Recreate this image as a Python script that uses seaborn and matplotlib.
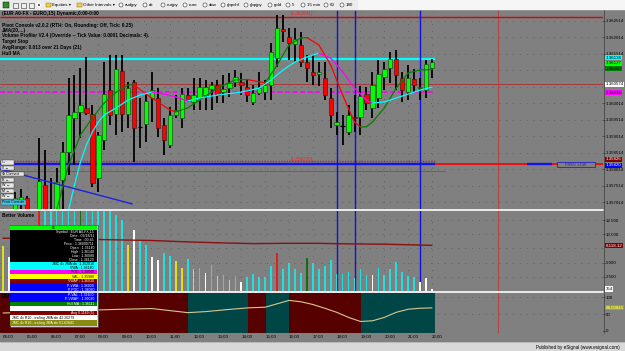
import matplotlib
matplotlib.use("Agg")
import matplotlib.pyplot as plt
import matplotlib.transforms as mtransforms
from matplotlib.patches import Rectangle, Circle
import numpy as np
import pandas as pd
import seaborn as sns

sns.set_style("dark")
plt.rcParams['font.family'] = ['Liberation Sans', 'DejaVu Sans']

# ---------------- data ----------------
bar_times = pd.date_range("2011-02-18 04:00", "2011-02-18 22:00", freq="15min")

opens = [1.35648, 1.35667, 1.35664, 1.35709, 1.35715, 1.35664, 1.35667, 1.35754, 1.35673, 1.35673,
         1.35770, 1.35854, 1.35958, 1.35976, 1.35988, 1.35970, 1.35776, 1.35891, 1.36042, 1.35970,
         1.36100, 1.35970, 1.36067, 1.35930, 1.35939, 1.36018, 1.36018, 1.35936, 1.35876, 1.35967,
         1.35958, 1.36027, 1.36006, 1.36018, 1.36027, 1.36045, 1.36057, 1.36036, 1.36048, 1.36067,
         1.36067, 1.36051, 1.36006, 1.36033, 1.36036, 1.36057, 1.36139, 1.36227, 1.36203, 1.36182,
         1.36179, 1.36127, 1.36097, 1.36091, 1.36079, 1.36018, 1.35936, 1.35933, 1.35915, 1.35961,
         1.35961, 1.36030, 1.35988, 1.36018, 1.36082, 1.36109, 1.36136, 1.36079, 1.36036, 1.36076,
         1.36048, 1.36042, 1.36109]
highs = [1.35673, 1.35673, 1.35733, 1.35742, 1.35721, 1.35673, 1.35897, 1.35860, 1.35776, 1.35806,
         1.35885, 1.36079, 1.36088, 1.36109, 1.36142, 1.35997, 1.35915, 1.36127, 1.36148, 1.36148,
         1.36148, 1.36067, 1.36073, 1.36018, 1.36033, 1.36097, 1.36048, 1.35958, 1.35991, 1.36027,
         1.36048, 1.36048, 1.36079, 1.36079, 1.36073, 1.36067, 1.36073, 1.36088, 1.36094, 1.36103,
         1.36094, 1.36073, 1.36057, 1.36097, 1.36073, 1.36185, 1.36270, 1.36270, 1.36230, 1.36230,
         1.36218, 1.36148, 1.36148, 1.36127, 1.36127, 1.36048, 1.35976, 1.35967, 1.35997, 1.36027,
         1.36054, 1.36051, 1.36097, 1.36133, 1.36127, 1.36157, 1.36164, 1.36097, 1.36118, 1.36106,
         1.36079, 1.36133, 1.36136]
lows = [1.35624, 1.35633, 1.35648, 1.35664, 1.35648, 1.35624, 1.35664, 1.35660, 1.35648, 1.35664,
        1.35673, 1.35785, 1.35815, 1.35897, 1.35967, 1.35748, 1.35733, 1.35860, 1.35936, 1.35906,
        1.35915, 1.35927, 1.35824, 1.35867, 1.35885, 1.35945, 1.35900, 1.35845, 1.35867, 1.35958,
        1.35927, 1.36006, 1.35982, 1.35982, 1.35982, 1.35982, 1.36003, 1.36003, 1.36021, 1.36051,
        1.36027, 1.36006, 1.35997, 1.36027, 1.36012, 1.36012, 1.36112, 1.36188, 1.36133, 1.36127,
        1.36112, 1.36067, 1.36057, 1.36054, 1.36012, 1.35927, 1.35906, 1.35876, 1.35906, 1.35915,
        1.35906, 1.35982, 1.35958, 1.35988, 1.36042, 1.36064, 1.36042, 1.36006, 1.36012, 1.36036,
        1.36012, 1.36018, 1.36079]
closes = [1.35664, 1.35648, 1.35715, 1.35718, 1.35667, 1.35648, 1.35767, 1.35670, 1.35660, 1.35764,
          1.35854, 1.35967, 1.35976, 1.35997, 1.35973, 1.35761, 1.35906, 1.36030, 1.35967, 1.36106,
          1.35970, 1.36048, 1.35927, 1.35930, 1.36009, 1.36042, 1.35927, 1.35891, 1.35967, 1.35982,
          1.36030, 1.36012, 1.36027, 1.36051, 1.36051, 1.36057, 1.36027, 1.36045, 1.36064, 1.36082,
          1.36057, 1.36027, 1.36033, 1.36048, 1.36057, 1.36157, 1.36230, 1.36221, 1.36185, 1.36197,
          1.36127, 1.36109, 1.36088, 1.36097, 1.36027, 1.35967, 1.35945, 1.35933, 1.35967, 1.35958,
          1.36024, 1.36003, 1.36057, 1.36091, 1.36106, 1.36136, 1.36088, 1.36042, 1.36079, 1.36057,
          1.36051, 1.36121, 1.36127]

volumes = [8000, 6000, 7000, 8000, 6500, 9000, 16000, 20000, 17000, 18000,
           19000, 25000, 22000, 21000, 20000, 24000, 18000, 23000, 15000, 13400,
           12500, 8100, 10700, 9000, 8100, 6000, 5450, 6700, 6150, 5300,
           4050, 5650, 3900, 4050, 3150, 4600, 2650, 2800, 1950, 2650,
           1600, 2450, 3000, 2450, 2450, 4400, 6700, 3900, 4900, 3900,
           3150, 5800, 4900, 3900, 4400, 5450, 3000, 3000, 3350, 2300,
           3900, 2800, 2800, 4050, 2800, 3900, 5100, 3350, 2650, 2450,
           1600, 2300, 354]
volume_class = ["yellow", "white", "cyan", "cyan", "white", "cyan", "red", "cyan", "cyan", "cyan",
                "cyan", "cyan", "cyan", "green", "cyan", "cyan", "cyan", "cyan", "cyan", "cyan",
                "cyan", "yellow", "white", "cyan", "cyan", "white", "white", "cyan", "cyan", "yellow",
                "yellow", "cyan", "yellow", "cyan", "white", "cyan", "yellow", "cyan", "yellow", "cyan",
                "white", "cyan", "cyan", "cyan", "cyan", "cyan", "red", "cyan", "cyan", "cyan",
                "cyan", "green", "cyan", "cyan", "cyan", "cyan", "cyan", "cyan", "cyan", "cyan",
                "cyan", "cyan", "white", "cyan", "cyan", "cyan", "cyan", "cyan", "cyan", "cyan",
                "white", "white", "white"]

# volume moving average (bar number, value)
vol_ma_bar = [0, 12, 25, 31, 36, 42, 47, 53, 58, 64, 72]
vol_ma_val = [9300, 9150, 8900, 8650, 8500, 8350, 8400, 8400, 8300, 8250, 8050]

# JMA (green rising / red falling)
jma_bar = [9, 11, 13, 15, 17, 19, 21, 22, 24, 26, 28, 29, 31, 33, 35, 37, 39, 41, 43, 44,
           46, 48, 50, 51, 53, 55, 57, 59, 60, 61, 62, 64, 66, 68, 70, 72]
jma_val = [1.35679, 1.35815, 1.35906, 1.35958, 1.36003, 1.36036, 1.36057, 1.36058, 1.36030, 1.36006,
           1.35982, 1.35976, 1.35988, 1.36012, 1.36036, 1.36057, 1.36073, 1.36074, 1.36067, 1.36064,
           1.36118, 1.36179, 1.36200, 1.36201, 1.36179, 1.36118, 1.36027, 1.35945, 1.35930, 1.35931,
           1.35945, 1.35988, 1.36048, 1.36094, 1.36103, 1.36104]

# Hull MA (cyan rising / magenta falling)
hull_bar = [11, 12, 13, 14, 15, 16, 17, 19, 21, 23, 25, 27, 29, 31, 33, 36, 40, 43, 45, 47,
            49, 51, 53, 55, 57, 59, 61, 62, 64, 67, 70, 72]
hull_val = [1.35679, 1.35755, 1.35824, 1.35876, 1.35915, 1.35945, 1.35967, 1.35988, 1.36012, 1.36027,
            1.36036, 1.36030, 1.36021, 1.36009, 1.36018, 1.36027, 1.36036, 1.36048, 1.36073, 1.36103,
            1.36127, 1.36142, 1.36154, 1.36139, 1.36097, 1.36048, 1.36012, 1.36003, 1.36006, 1.36024,
            1.36042, 1.36051]

# RSI-type oscillator and its background regimes
rsi_bar = [0, 4, 8, 12, 16, 20, 25, 28, 31, 34, 37, 41, 44, 46, 48, 50, 52, 54, 56, 58,
           60, 62, 64, 66, 68, 70, 72]
rsi_val = [53, 55, 58, 60, 62, 64, 66, 60, 54, 57, 62, 68, 70, 80, 90, 86, 78, 67, 55, 40,
           28, 30, 40, 55, 64, 67, 68]
regime_start = [-0.5, 31.0, 41.1, 44.1, 48.0, 60.1]
regime_end = [31.0, 41.1, 44.1, 48.0, 60.1, 72.5]
regime_kind = ["down", "up", "down", "up", "down", "up"]

# right-axis tick labels that are not hidden behind value tags
price_ticks = [1.357014, 1.357514, 1.358014, 1.358514, 1.359014, 1.359514,
               1.360014, 1.361514, 1.362014, 1.362514]
price_grid = [1.357014, 1.357514, 1.358014, 1.358514, 1.359014, 1.359514,
              1.360014, 1.360514, 1.361014, 1.361514, 1.362014, 1.362514]
volume_ticks = [2500, 5000, 10000, 12500]
volume_tick_labels = ["2.500", "5.000", "10.000", "12.500"]
volume_grid = [2500, 5000, 7500, 10000, 12500]
rsi_ticks = [0, 50, 100]

# horizontal levels
level_high = 1.36264
level_cyan = 1.36137
level_pivot = 1.36059
level_poc = 1.36037
level_low_dot = 1.35826
level_prev_low = 1.35817
level_low2 = 1.35797
trend_bar = [-0.5, 21.7]
trend_val = [1.35803, 1.35697]
session_lines = [56, 59, 70]
now_line = 83.1

header_lines = ["(EUR A0-FX - EURO,15) Dynamic,0:00-0:00", "",
                "Pivot Console v2.0.2 (RTH: On, Rounding: Off, Tick: 0.25)",
                "JMA(20,...)",
                "Volume Profiler V2.4 (Override -- Tick Value: 0.0001 Decimals: 4).",
                "Target Stop",
                "AvgRange: 0.013 over 21 Days (21)",
                "Hull MA"]

toolbar_items = ["audjpy", "dx", "eurjpy", "euro", "dow", "gbpchf", "gbpjpy", "gold",
                 "5", "15 min", "60", "180"]

# ---------------- figure ----------------
GRAY = '#808080'
W, H = 625, 351
fig = plt.figure(figsize=(W / 100, H / 100), dpi=100)
fig.patch.set_facecolor(GRAY)

n = len(opens)
idx = np.arange(n)
o = np.array(opens); c = np.array(closes); hi = np.array(highs); lo = np.array(lows)
hour_bar = [i for i, t in enumerate(bar_times) if t.minute == 0]
hour_lab = [bar_times[i].strftime("%H:%M") for i in hour_bar]

XMIN, XMAX = -0.5035, 100.7
DOT = (0, (1.2, 7))
LBL = 3.2


def add_panel(y_top, y_bot):
    ax = fig.add_axes([0, 1 - y_bot / H, 603 / W, (y_bot - y_top) / H])
    ax.set_facecolor(GRAY)
    for s in ax.spines.values():
        s.set_visible(False)
    ax.set_xlim(XMIN, XMAX)
    ax.yaxis.tick_right()
    ax.tick_params(axis='y', labelsize=LBL, length=1.2, width=0.4, pad=0.6,
                   colors='black', direction='out')
    ax.tick_params(axis='x', bottom=False, labelbottom=False)
    ax.grid(False)
    for i in hour_bar:
        ax.axvline(i, color='#5e5e5e', lw=0.6, ls=DOT, zorder=0)
    return ax


def tag(ax, y, text, fc, tc='black'):
    tr = mtransforms.blended_transform_factory(ax.transAxes, ax.transData)
    ax.text(1.004, y, text, transform=tr, fontsize=LBL, color=tc, va='center', ha='left',
            bbox=dict(boxstyle='square,pad=0.12', fc=fc, ec='none'), zorder=10, clip_on=False)


# ---- price panel ----
ax_p = add_panel(10, 209)
ax_p.set_ylim(1.356817, 1.362847)
ax_p.set_yticks(price_ticks)
ax_p.set_yticklabels([f"{t:.6f}" for t in price_ticks])
for t in price_grid:
    ax_p.axhline(t, color='#5e5e5e', lw=0.6, ls=DOT, zorder=0)

ax_p.hlines(level_high, XMIN, XMAX, color='#e00000', lw=1.0, zorder=2)
ax_p.hlines(level_pivot, XMIN, XMAX, color='#a83a3a', lw=0.7, zorder=2)
ax_p.hlines(level_cyan, XMIN, 72.5, color='#00ffff', lw=1.6, zorder=2)
ax_p.hlines(level_poc, XMIN, 72.5, color='#ff00ff', lw=1.2, ls=(0, (3, 1.5)), zorder=2)
ax_p.hlines(level_low_dot, XMIN, 72.5, color='#c02020', lw=1.0, ls=(0, (1, 1)), zorder=2)
ax_p.hlines(level_prev_low, XMIN, 72.5, color='#1414e6', lw=1.7, zorder=2)
ax_p.hlines(level_prev_low, 72.5, XMAX, color='#e81010', lw=1.4, zorder=2)
ax_p.hlines(level_prev_low, 88.0, 92.2, color='#1414e6', lw=1.7, zorder=2)
ax_p.hlines(level_low2, XMIN, 74.2, color='#a04848', lw=0.7, zorder=2)
for b in session_lines:
    ax_p.axvline(b, color='#1010e0', lw=1.0, zorder=2)
ax_p.axvline(now_line, color='#b04848', lw=0.8, zorder=1)

# candles
up = c > o
dn = c < o
dj = c == o
ax_p.vlines(idx, lo, hi, color='black', lw=1.3, zorder=3)
ax_p.bar(idx[up], (c - o)[up], bottom=o[up], width=0.74, color='#00ff00',
         edgecolor='#1a3a1a', lw=0.4, zorder=4)
ax_p.bar(idx[dn], (c - o)[dn], bottom=o[dn], width=0.74, color='#ff0000',
         edgecolor='#3a1010', lw=0.4, zorder=4)
ax_p.hlines(o[dj], idx[dj] - 0.37, idx[dj] + 0.37, color='black', lw=0.9, zorder=4)


def two_tone(ax, xs, ys, col_up, col_dn, lw):
    for k in range(len(xs) - 1):
        col = col_up if ys[k + 1] >= ys[k] else col_dn
        ax.plot(xs[k:k + 2], ys[k:k + 2], color=col, lw=lw, zorder=5,
                solid_capstyle='round')


two_tone(ax_p, jma_bar, jma_val, '#008000', '#ff0000', 0.9)
two_tone(ax_p, hull_bar, hull_val, '#00ffff', '#ff00ff', 0.9)
ax_p.plot(trend_bar, trend_val, color='#2020e0', lw=1.0, zorder=6)

tag(ax_p, level_cyan + 0.00003, "1.36136", '#00ffff')
tag(ax_p, 1.36124, "1.36127", '#00ff00')
tag(ax_p, 1.36107, "1.36110", '#008000')
tag(ax_p, level_pivot, "1.360574", '#ffffff')
tag(ax_p, level_poc - 0.00003, "1.36036", '#ff00ff')
tag(ax_p, 1.35833, "1.35826", '#800000', 'white')
tag(ax_p, 1.35814, "1.35820", '#0000ff', 'white')

# ---- volume panel ----
ax_v = add_panel(211, 291)
ax_v.set_ylim(0, 14100)
for t in volume_grid:
    ax_v.axhline(t, color='#5e5e5e', lw=0.6, ls=DOT, zorder=0)
for b in session_lines:
    ax_v.axvline(b, color='#1010e0', lw=1.0, zorder=1)
ax_v.axvline(now_line, color='#b04848', lw=0.8, zorder=1)
vdf = pd.DataFrame({"bar": idx, "volume": volumes, "kind": volume_class})
vol_pal = {"yellow": "#ffff00", "white": "#ffffff", "cyan": "#00ffff",
           "red": "#ff0000", "green": "#008000"}
sns.barplot(data=vdf, x="bar", y="volume", hue="kind", palette=vol_pal, native_scale=True,
            width=0.28, dodge=False, errorbar=None, legend=False, ax=ax_v,
            linewidth=0, zorder=3)
ax_v.set_xlim(XMIN, XMAX)
ax_v.set_ylim(0, 14100)
sns.lineplot(x=vol_ma_bar, y=vol_ma_val, ax=ax_v, color='#8b1010', lw=1.0, zorder=4)
ax_v.set_xlabel(""); ax_v.set_ylabel("")
ax_v.yaxis.tick_right()
ax_v.set_yticks(volume_ticks)
ax_v.set_yticklabels(volume_tick_labels)
ax_v.tick_params(axis='y', labelsize=LBL, length=1.2, width=0.4, pad=0.6, colors='black',
                 right=True, labelright=True, left=False, labelleft=False)
ax_v.tick_params(axis='x', bottom=False, labelbottom=False)
tag(ax_v, 8050, "8,118.12", '#800000', 'white')
tag(ax_v, 354, "354", '#ffffff')

# ---- RSI panel ----
ax_r = add_panel(293, 333)
ax_r.set_ylim(-5.9, 111.8)
for t in [50, 100]:
    ax_r.axhline(t, color='#5e5e5e', lw=0.6, ls=DOT, zorder=0)
reg_col = {"down": "#560000", "up": "#004646"}
for s, e, k in zip(regime_start, regime_end, regime_kind):
    ax_r.axvspan(s, e, color=reg_col[k], lw=0, zorder=1)
ax_r.axvline(now_line, color='#b04848', lw=0.8, zorder=1)
sns.lineplot(x=rsi_bar, y=rsi_val, ax=ax_r, color='#d8c890', lw=0.8, zorder=3)
ax_r.set_xlabel(""); ax_r.set_ylabel("")
ax_r.set_xlim(XMIN, XMAX)
ax_r.yaxis.tick_right()
ax_r.set_yticks(rsi_ticks)
ax_r.set_yticklabels([str(t) for t in rsi_ticks])
ax_r.tick_params(axis='y', labelsize=LBL, length=1.2, width=0.4, pad=0.6, colors='black',
                 right=True, labelright=True, left=False, labelleft=False)
ax_r.set_xticks(hour_bar)
ax_r.set_xticklabels(hour_lab, ha='left')
ax_r.tick_params(axis='x', bottom=False, labelbottom=True, labelsize=LBL, pad=1.5,
                 colors='black', length=0)
tag(ax_r, 68, "68.03841", '#a6a600', 'white')

# ---- overlay (chrome, legends, data window) ----
ax_o = fig.add_axes([0, 0, 1, 1], facecolor='none')
ax_o.set_xlim(0, W)
ax_o.set_ylim(H, 0)
ax_o.axis('off')


def R(x, y, w, h, fc, ec='none', lw=0.5, z=20):
    ax_o.add_patch(Rectangle((x, y), w, h, fc=fc, ec=ec, lw=lw, zorder=z))


def T(x, y, s, size=3.3, color='black', ha='left', weight='normal', z=22):
    ax_o.text(x, y, s, fontsize=size, color=color, ha=ha, va='center', weight=weight, zorder=z)


# toolbar
R(0, 0, W, 10, '#ececec')
R(358, 0, W - 358, 10, '#f6f6f6')
ax_o.plot([0, W], [10, 10], color='#9a9a9a', lw=0.6, zorder=21)
R(3, 2, 6, 6, '#2f8f2f', ec='black', lw=0.3, z=21)
for xx in (13, 21, 29):
    R(xx, 2.5, 5, 5, '#f0f0f0', ec='#303030', lw=0.4, z=21)
ax_o.add_patch(Circle((39, 5), 1.6, fc='black', zorder=21))
for xx in (46, 77):
    R(xx, 3, 5, 4, '#f0d040', ec='#806010', lw=0.3, z=21)
T(52.5, 5, "Equities \u25be", 3.2)
T(83, 5, "Other Intervals \u25be", 3.2)
tb_x = [125, 149, 167, 189, 209, 227, 250, 274, 292, 307, 330, 346]
for xx, s in zip(tb_x, toolbar_items):
    ax_o.add_patch(Circle((xx - 4, 5), 2.0, fc='white', ec='#303030', lw=0.4, zorder=21))
    T(xx, 5, s, 3.2)

# separators and frame
ax_o.plot([0, 603], [210, 210], color='white', lw=1.2, zorder=21)
ax_o.plot([0, 603], [292, 292], color='white', lw=1.2, zorder=21)
ax_o.plot([603.5, 603.5], [10, 333], color='#3c3c3c', lw=0.5, zorder=21)
R(0, 342, W, 9, '#d8d8d8')
ax_o.plot([0, W], [342, 342], color='#b4b4b4', lw=0.6, zorder=21)
T(620, 347, "Published by eSignal (www.esignal.com)", 3.3, ha='right')

# header texts
hy = [13, 19, 25, 30.5, 36, 42, 48, 53.5]
for yy, s in zip(hy, header_lines):
    if s:
        T(1.5, yy, s, 3.4, weight='bold')
T(302, 14, "(1.362641)", 3.3, color='#ff2020', ha='center')
T(302, 159.5, "(1.358270)", 3.3, color='#ff2020', ha='center')
R(557, 162, 38, 5, GRAY, ec='#2020d0', lw=0.6)
T(576, 164.5, "PREV. LOW", 2.8, color='#2020d0', ha='center')
T(1.5, 215.5, "Better Volume", 3.4, weight='bold')
T(1.5, 297, "RSI", 3.4, weight='bold')

# left buttons
buttons = [(160, 13, "I+ \u00b7", '#e6e6e6'), (165.5, 13, "II \u2190", '#e6e6e6'),
           (171.5, 23, "\u2295 Connect", '#e6e6e6'), (177.5, 13, "B \u2190", '#e6e6e6'),
           (183, 13, "W \u2190", '#e6e6e6'), (188.5, 13, "M \u2190", '#e6e6e6'),
           (194, 13, "W \u2190", '#e6e6e6'), (200, 25, "Pivot Console", '#40c8e8')]
for yy, ww, s, fc in buttons:
    R(0.5, yy, ww, 4.6, fc, ec='#404040', lw=0.3)
    T(2, yy + 2.4, s, 2.6)

# data window
dw_x, dw_w = 10, 87
rows = [(225.7, 4.3, '#00ff00', [("06", 'black', 'center')]),
        (230.0, 31.7, '#000000', [("Symbol : EUR A0-FX,15", 'white', 'right'),
                                  ("Date : 02/18/11", 'white', 'right'),
                                  ("Time : 00:45", 'white', 'right'),
                                  ("Price : 1.36000711", 'white', 'right'),
                                  ("Open : 1.36140", 'white', 'right'),
                                  ("High : 1.36140", 'white', 'right'),
                                  ("Low : 1.36080", 'white', 'right'),
                                  ("Close : 1.36120", 'white', 'right')]),
        (261.7, 8.3, '#00ffff', [("JMC 4x JMA sfn  1.362016", 'black', 'right'),
                                 ("VWA : 1.36140", 'black', 'right')]),
        (270.0, 4.3, '#ff00ff', [("POC : 1.36060", 'black', 'right')]),
        (274.3, 4.7, '#ffff00', [("VAL : 1.35980", 'black', 'right')]),
        (279.0, 4.3, '#800000', [("VWAP : 1.36030", 'white', 'right')]),
        (283.3, 18.4, '#0000ff', [("P-VWA : 1.36020", 'white', 'right'),
                                  ("P-POC : 1.36060", 'white', 'right'),
                                  ("P-VAL : 1.36100", 'white', 'right'),
                                  ("P-VWAP : 1.36030", 'white', 'right')]),
        (301.7, 4.0, '#008000', [("Hull MA : 1.36111", 'white', 'right')]),
        (305.7, 5.3, '#ffffff', []),
        (311.0, 4.0, '#800000', [("Avg 0.1169 (5)", 'white', 'right')]),
        (315.0, 5.0, '#ffffff', [("JMC 4x R10 - trailing JMA sfn 42.20279", 'black', 'left')]),
        (320.0, 6.0, '#8a8a10', [("JMC 4x R10 - trailing JMA sfn 61.63841", 'white', 'left')])]
R(dw_x - 0.5, 225.2, dw_w + 1, 101.5, '#d0d0d0', ec='#303030', lw=0.4, z=19)
for y0, hh, fc, lines in rows:
    R(dw_x, y0, dw_w, hh, fc, z=20)
    if lines:
        step = hh / len(lines)
        for k, (s, col, al) in enumerate(lines):
            xx = {'right': dw_x + dw_w - 3, 'center': dw_x + dw_w / 2, 'left': dw_x + 2}[al]
            T(xx, y0 + step * (k + 0.5), s, 2.5, color=col, ha=al)

fig.savefig("out.png", dpi=100, facecolor=GRAY)
